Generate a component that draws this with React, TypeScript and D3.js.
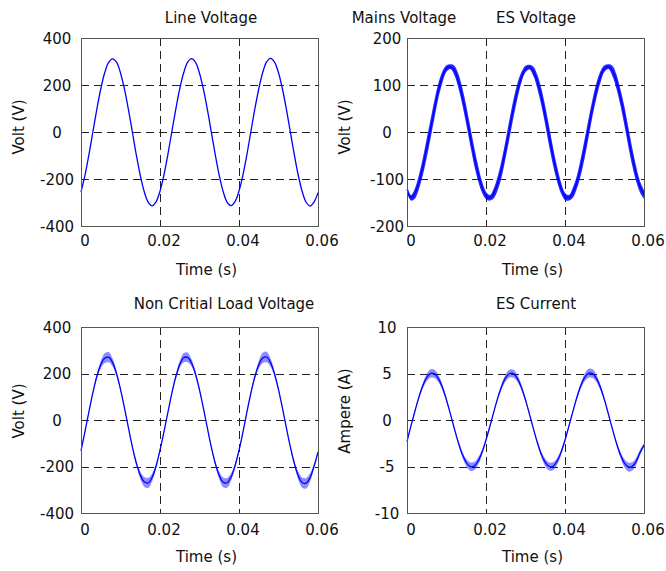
import React from "react";
import * as d3 from "d3";

const W = 666;
const H = 571;
const STEP = 0.001; // samples read every 1 ms

const xTicks = [0, 0.02, 0.04, 0.06];
const voltTicks400 = [-400, -200, 0, 200, 400];
const voltTicks200 = [-200, -100, 0, 100, 200];
const ampTicks = [-10, -5, 0, 5, 10];

// values, 0 .. 0.06 s
const lineVoltage = [
  -255, -185, -97, 0, 96, 183, 252, 296, 311, 297, 251, 182, 96, 0, -97, -184, -253, -298, -314, -297,
  -252, -183, -95, 2, 97, 184, 252, 297, 312, 296, 250, 181, 95, -1, -97, -185, -254, -299, -313, -296,
  -251, -182, -96, 1, 97, 183, 253, 298, 313, 297, 252, 183, 96, 0, -96, -184, -253, -299, -315, -298,
  -258,
];

const esVoltage = [
  -122, -140, -131, -107, -74, -34, 8, 51, 90, 118, 135, 139, 131, 109, 76, 36, -8, -51, -88, -117,
  -135, -140, -130, -108, -76, -35, 9, 52, 89, 117, 134, 138, 129, 107, 75, 35, -10, -53, -90, -119,
  -137, -140, -129, -107, -74, -34, 10, 53, 90, 118, 135, 139, 130, 108, 75, 36, -9, -52, -89, -117,
  -133,
];
const esVoltageRipple = [
  8, 6, 11, 15, 18, 20, 20, 19, 16, 12, 7, 5, 10, 15, 18, 20, 20, 19, 16, 12,
  8, 6, 11, 15, 18, 19, 20, 19, 16, 11, 7, 5, 10, 15, 18, 20, 21, 19, 16, 12,
  8, 6, 11, 14, 18, 20, 20, 18, 16, 12, 7, 5, 11, 15, 17, 20, 20, 19, 16, 12,
  9,
];

const nclVoltage = [
  -132, -50, 35, 117, 187, 238, 266, 270, 247, 199, 132, 52, -33, -115, -185, -237, -266, -271, -247, -199,
  -130, -51, 33, 116, 186, 239, 268, 269, 245, 197, 130, 50, -35, -117, -187, -239, -268, -270, -245, -197,
  -131, -52, 34, 115, 185, 237, 267, 271, 246, 198, 131, 51, -34, -116, -186, -240, -269, -272, -247, -199,
  -138,
];
const nclRipple = [
  6, 3, 3, 5, 10, 16, 21, 22, 17, 11, 6, 3, 3, 5, 10, 16, 21, 22, 17, 11,
  6, 3, 3, 5, 9, 15, 20, 21, 16, 10, 6, 3, 3, 6, 10, 16, 21, 21, 16, 11,
  6, 3, 3, 5, 10, 17, 22, 23, 18, 11, 6, 3, 3, 5, 10, 17, 22, 23, 18, 11,
  6,
];

const esCurrent = [
  -2.3, -0.63, 0.94, 2.43, 3.68, 4.57, 5.01, 4.96, 4.42, 3.46, 2.15, 0.63, -0.94, -2.43, -3.68, -4.57, -5.01, -4.96, -4.42, -3.46,
  -2.15, -0.65, 0.92, 2.4, 3.66, 4.55, 5.0, 4.97, 4.43, 3.47, 2.16, 0.64, -0.93, -2.42, -3.68, -4.56, -5.0, -4.97, -4.43, -3.48,
  -2.17, -0.64, 0.93, 2.42, 3.69, 4.58, 5.03, 4.98, 4.44, 3.47, 2.16, 0.62, -0.95, -2.45, -3.7, -4.6, -5.05, -5.0, -4.46, -3.5,
  -2.7,
];
const esCurrentRipple = [
  0.2, 0.1, 0.1, 0.2, 0.3, 0.4, 0.45, 0.45, 0.4, 0.3, 0.2, 0.1, 0.1, 0.2, 0.3, 0.4, 0.45, 0.45, 0.4, 0.3,
  0.2, 0.1, 0.1, 0.2, 0.3, 0.38, 0.43, 0.44, 0.38, 0.3, 0.2, 0.1, 0.1, 0.2, 0.3, 0.4, 0.44, 0.43, 0.38, 0.28,
  0.2, 0.1, 0.1, 0.2, 0.32, 0.42, 0.48, 0.47, 0.4, 0.3, 0.2, 0.1, 0.1, 0.2, 0.32, 0.42, 0.48, 0.46, 0.4, 0.3,
  0.2,
];

// layout of the 2x2 grid
const COLS = [
  { x0: 81, x1: 318, tickX: 57, labelX: 24 },
  { x0: 407, x1: 644, tickX: 387, labelX: 350 },
];
const ROWS = [
  { y0: 38, y1: 226, titleY: 23, tickY: 246, labelY: 275, yLabelMid: 127 },
  { y0: 327, y1: 513, titleY: 309, tickY: 535, labelY: 562, yLabelMid: 411 },
];

const panels = [
  { col: 0, row: 0, titles: [["Line Voltage", 211]], yLabel: "Volt (V)", yTicks: voltTicks400, values: lineVoltage, ripple: null, bandOpacity: 0 },
  { col: 1, row: 0, titles: [["Mains Voltage", 404], ["ES Voltage", 536]], yLabel: "Volt (V)", yTicks: voltTicks200, values: esVoltage, ripple: esVoltageRipple, bandOpacity: 0.85 },
  { col: 0, row: 1, titles: [["Non Critial Load Voltage", 224]], yLabel: "Volt (V)", yTicks: voltTicks400, values: nclVoltage, ripple: nclRipple, bandOpacity: 0.45 },
  { col: 1, row: 1, titles: [["ES Current", 536]], yLabel: "Ampere (A)", yTicks: ampTicks, values: esCurrent, ripple: esCurrentRipple, bandOpacity: 0.45 },
];

const BLUE = "#0000ff";
const FONT = "DejaVu Sans";
const crisp = (v: number) => Math.round(v) + 0.5;

function Panel({ p }: { p: any }) {
  const c = COLS[p.col];
  const r = ROWS[p.row];
  const x = d3.scaleLinear().domain([0, 0.06]).range([c.x0, c.x1]);
  const y = d3
    .scaleLinear()
    .domain([p.yTicks[0], p.yTicks[p.yTicks.length - 1]])
    .range([r.y1, r.y0]);

  const pts = p.values.map((v: number, i: number) => ({ t: i * STEP, v, r: p.ripple ? p.ripple[i] : 0 }));
  const line = d3
    .line<any>()
    .x((d) => x(d.t))
    .y((d) => y(d.v))
    .curve(d3.curveCatmullRom);
  const band = d3
    .area<any>()
    .x((d) => x(d.t))
    .y0((d) => y(d.v - d.r))
    .y1((d) => y(d.v + d.r))
    .curve(d3.curveCatmullRom);

  const innerY = p.yTicks.slice(1, -1);
  const innerX = xTicks.slice(1, -1);

  return (
    <g>
      {/* grid */}
      {innerY.map((v: number) => (
        <line key={"gy" + v} x1={c.x0} x2={c.x1} y1={crisp(y(v))} y2={crisp(y(v))} stroke="#222" strokeDasharray="8,5" />
      ))}
      {innerX.map((t) => (
        <line key={"gx" + t} x1={crisp(x(t))} x2={crisp(x(t))} y1={r.y0} y2={r.y1} stroke="#222" strokeDasharray="8,5" />
      ))}

      {/* waveform */}
      {p.ripple && <path d={band(pts) || ""} fill={BLUE} fillOpacity={p.bandOpacity} stroke="none" />}
      <path d={line(pts) || ""} fill="none" stroke={BLUE} strokeWidth={1.3} />

      {/* frame */}
      <rect x={c.x0 + 0.5} y={r.y0 + 0.5} width={c.x1 - c.x0} height={r.y1 - r.y0} fill="none" stroke="#555" />

      {/* tick labels */}
      {p.yTicks.map((v: number) => (
        <text key={"ty" + v} x={c.tickX} y={y(v) + 5.5} textAnchor="middle">
          {String(v)}
        </text>
      ))}
      {xTicks.map((t) => (
        <text key={"tx" + t} x={x(t) + 4} y={r.tickY} textAnchor="middle">
          {String(t)}
        </text>
      ))}

      {/* labels */}
      <text x={(c.x0 + c.x1) / 2 + 7} y={r.labelY} textAnchor="middle">
        Time (s)
      </text>
      <text transform={`translate(${c.labelX},${r.yLabelMid}) rotate(-90)`} textAnchor="middle">
        {p.yLabel}
      </text>
      {p.titles.map(([txt, cx]: [string, number]) => (
        <text key={txt} x={cx} y={r.titleY} textAnchor="middle">
          {txt}
        </text>
      ))}
    </g>
  );
}

export default function App() {
  return (
    <svg
      width={W}
      height={H}
      style={{ position: "absolute", left: 0, top: 0, background: "#fff" }}
      fontFamily={FONT}
      fontSize={15}
      fill="#111"
    >
      <rect width={W} height={H} fill="#fff" />
      {panels.map((p, i) => (
        <Panel key={i} p={p} />
      ))}
    </svg>
  );
}
